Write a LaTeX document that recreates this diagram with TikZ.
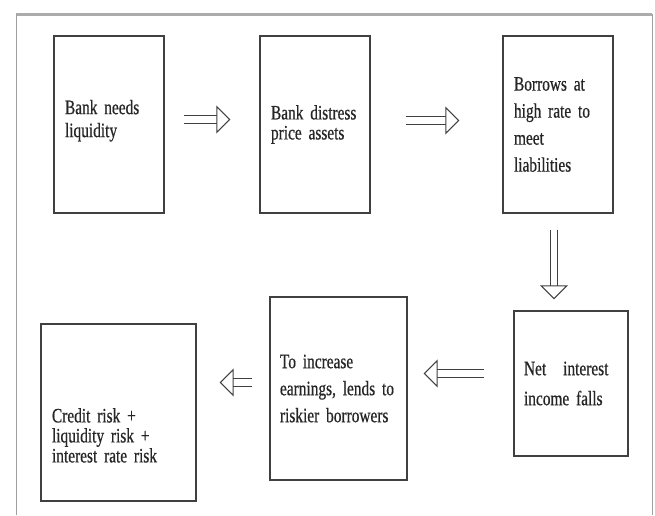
\documentclass[tikz,border=0pt]{standalone}
\usepackage{fontspec}
\setmainfont{Liberation Serif}[FakeStretch=0.75, FakeBold=0.6]
\usetikzlibrary{arrows.meta,positioning,calc}

\hyphenpenalty=10000
\exhyphenpenalty=10000

\tikzset{
  stage/.style={draw=black!75, line width=1.3pt, rectangle, align=left,
    inner xsep=11pt, inner ysep=0pt, text=black!85,
    font=\fontsize{20.5}{23}\selectfont},
  hollow/.style={draw=black!75, line width=1.1pt, double=white, double distance=6.5pt,
    -{Triangle[open, length=14pt, width=28pt]}},
}

\begin{document}
\begin{tikzpicture}[x=1pt, y=-1pt]
    \useasboundingbox (0,0) rectangle (655,515);

    % Frame
    \draw[gray!65, line width=3pt] (16,14) -- (652,14);
    \draw[gray!75, line width=0.9pt] (16,14) -- (16,515);
    \draw[gray!75, line width=0.9pt] (652,14) -- (652,515);

    % Top row
    \node[stage, text width=88pt, minimum height=177pt] (need) at (109,124.5) {Bank needs\\liquidity\\[-11pt]\mbox{}};
    \node[stage, text width=88pt, minimum height=177pt, font=\fontsize{20.5}{20}\selectfont] (distress) at (315,124.5) {Bank distress\\price assets};
    \node[stage, text width=88pt, minimum height=177pt, font=\fontsize{20.5}{27}\selectfont] (borrow) at (558,124.5) {Borrows at\\high rate to\\meet\\liabilities};

    % Bottom row
    \node[stage, inner xsep=10pt, text width=94pt, minimum height=145pt, font=\fontsize{20.5}{30}\selectfont] (nii) at (571,383.5) {Net\hspace{17pt}interest\\income falls};
    \node[stage, inner xsep=10pt, text width=117pt, minimum height=183pt, font=\fontsize{20.5}{27}\selectfont] (lend) at (338.5,388.5) {To increase\\earnings, lends to\\riskier borrowers};
    \node[stage, text width=133pt, minimum height=177pt, font=\fontsize{20.5}{20}\selectfont] (risk) at (118.5,412.5) {\mbox{}\\[40pt]Credit risk +\\liquidity risk +\\interest rate risk};

    % Flow arrows
    \draw[hollow, shorten <=19pt, shorten >=29pt] ([yshift=5pt]need.east) -- ([yshift=5pt]distress.west);
    \draw[hollow, shorten <=35pt, shorten >=43pt] ([yshift=4pt]distress.east) -- ([yshift=4pt]borrow.west);
    \draw[hollow, shorten <=16pt, shorten >=11pt] ([xshift=-4pt]borrow.south) -- ([xshift=-4pt]borrow.south |- nii.north);
    \draw[hollow, shorten <=29pt, shorten >=16pt] ([yshift=10pt]nii.west) -- ([yshift=10pt]nii.west -| lend.east);
    \draw[hollow, shorten <=17pt, shorten >=23pt] ([yshift=6pt]lend.west) -- ([yshift=6pt]lend.west -| risk.east);
\end{tikzpicture}
\end{document}
